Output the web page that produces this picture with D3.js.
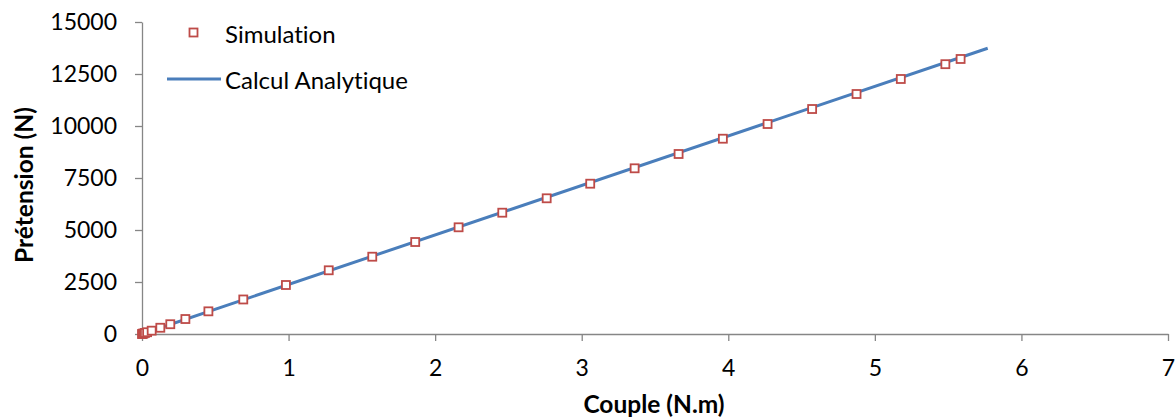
<!DOCTYPE html>
<html>
<head>
<meta charset="utf-8">
<script src="https://cdn.jsdelivr.net/npm/d3@7/dist/d3.min.js"></script>
<style>
  html, body { margin: 0; padding: 0; background: #fff; }
  svg { display: block; font-family: Lato, "Open Sans", sans-serif; font-variant-ligatures: none; font-feature-settings: "liga" 0, "clig" 0; }
</style>
</head>
<body>
<svg id="chart" width="1175" height="417"></svg>
<script>
// ---- Data ----
const simX = [0, 0.005, 0.01, 0.02, 0.035, 0.066, 0.125, 0.193, 0.296, 0.453, 0.691, 0.982, 1.274, 1.571, 1.864, 2.160, 2.458, 2.761, 3.058, 3.361, 3.661, 3.963, 4.268, 4.572, 4.875, 5.177, 5.481, 5.585];
const simY = [0, 10, 25, 50, 85, 160, 300, 470, 720, 1090, 1660, 2356, 3063, 3716, 4423, 5130, 5832, 6524, 7226, 7966, 8654, 9389, 10096, 10817, 11538, 12260, 12972, 13222];
const anaX = [0, 5.77];
const anaY = [0, 13740];
const xTicks = [0, 1, 2, 3, 4, 5, 6, 7];
const yTicks = [0, 2500, 5000, 7500, 10000, 12500, 15000];
const seriesNames = ["Simulation", "Calcul Analytique"];
const xTitle = "Couple (N.m)";
const yTitle = "Prétension (N)";

// ---- Layout ----
const W = 1175, H = 417;
const m = { left: 142, right: 7, top: 22, bottom: 83 };
const svg = d3.select("#chart");
const x = d3.scaleLinear().domain([0, 7]).range([m.left, W - m.right]);
const y = d3.scaleLinear().domain([0, 15000]).range([H - m.bottom, m.top]);

const axisColor = "#868686";
const fontSize = 23;

// X axis
const gx = svg.append("g")
  .attr("transform", `translate(0,${y(0)})`)
  .call(d3.axisBottom(x).tickValues(xTicks).tickFormat(d3.format("d")).tickSizeInner(7).tickSizeOuter(0).tickPadding(19));
gx.select(".domain").attr("stroke", axisColor).attr("stroke-width", 1.3);
gx.selectAll(".tick line").attr("stroke", axisColor).attr("stroke-width", 1.3);
gx.selectAll(".tick text").attr("font-size", fontSize).attr("font-family", "Lato").attr("fill", "#000");

// Y axis
const gy = svg.append("g")
  .attr("transform", `translate(${x(0)},0)`)
  .call(d3.axisLeft(y).tickValues(yTicks).tickFormat(d3.format("d")).tickSizeInner(7).tickSizeOuter(0).tickPadding(18));
gy.select(".domain").attr("stroke", axisColor).attr("stroke-width", 1.3);
gy.selectAll(".tick line").attr("stroke", axisColor).attr("stroke-width", 1.3);
gy.selectAll(".tick text").attr("font-size", fontSize).attr("font-family", "Lato").attr("fill", "#000");

// Analytic line
const lineColor = "#4A7EBB";
const markColor = "#BE4B48";
const anaData = anaX.map((d, i) => [d, anaY[i]]);
svg.append("path")
  .datum(anaData)
  .attr("fill", "none")
  .attr("stroke", lineColor)
  .attr("stroke-width", 3)
  .attr("d", d3.line().x(d => x(d[0])).y(d => y(d[1])));

// Simulation markers
const simData = simX.map((d, i) => [d, simY[i]]);
const ms = 8;
svg.append("g").selectAll("rect")
  .data(simData)
  .join("rect")
  .attr("x", d => x(d[0]) - ms / 2)
  .attr("y", d => y(d[1]) - ms / 2)
  .attr("width", ms)
  .attr("height", ms)
  .attr("fill", "#fff")
  .attr("stroke", markColor)
  .attr("stroke-width", 1.8);

// Legend
const legendSize = 24;
const lg = svg.append("g");
lg.append("rect").attr("x", 193.5 - ms / 2).attr("y", 32.5 - ms / 2).attr("width", ms).attr("height", ms)
  .attr("fill", "#fff").attr("stroke", markColor).attr("stroke-width", 1.8);
lg.append("text").attr("x", 225).attr("y", 33).attr("dominant-baseline", "central")
  .attr("font-size", legendSize).text(seriesNames[0]);
lg.append("line").attr("x1", 167).attr("x2", 221).attr("y1", 79).attr("y2", 79)
  .attr("stroke", lineColor).attr("stroke-width", 3);
lg.append("text").attr("x", 225).attr("y", 79).attr("dominant-baseline", "central")
  .attr("font-size", legendSize).text(seriesNames[1]);

// Axis titles
const titleSize = 24.5;
svg.append("text").attr("x", 654).attr("y", 403).attr("text-anchor", "middle").attr("dominant-baseline", "central")
  .attr("font-size", titleSize).attr("font-weight", "bold").text(xTitle);
svg.append("text").attr("transform", "translate(23,185) rotate(-90)").attr("text-anchor", "middle").attr("dominant-baseline", "central")
  .attr("font-size", titleSize).attr("font-weight", "bold").text(yTitle);
</script>
</body>
</html>
